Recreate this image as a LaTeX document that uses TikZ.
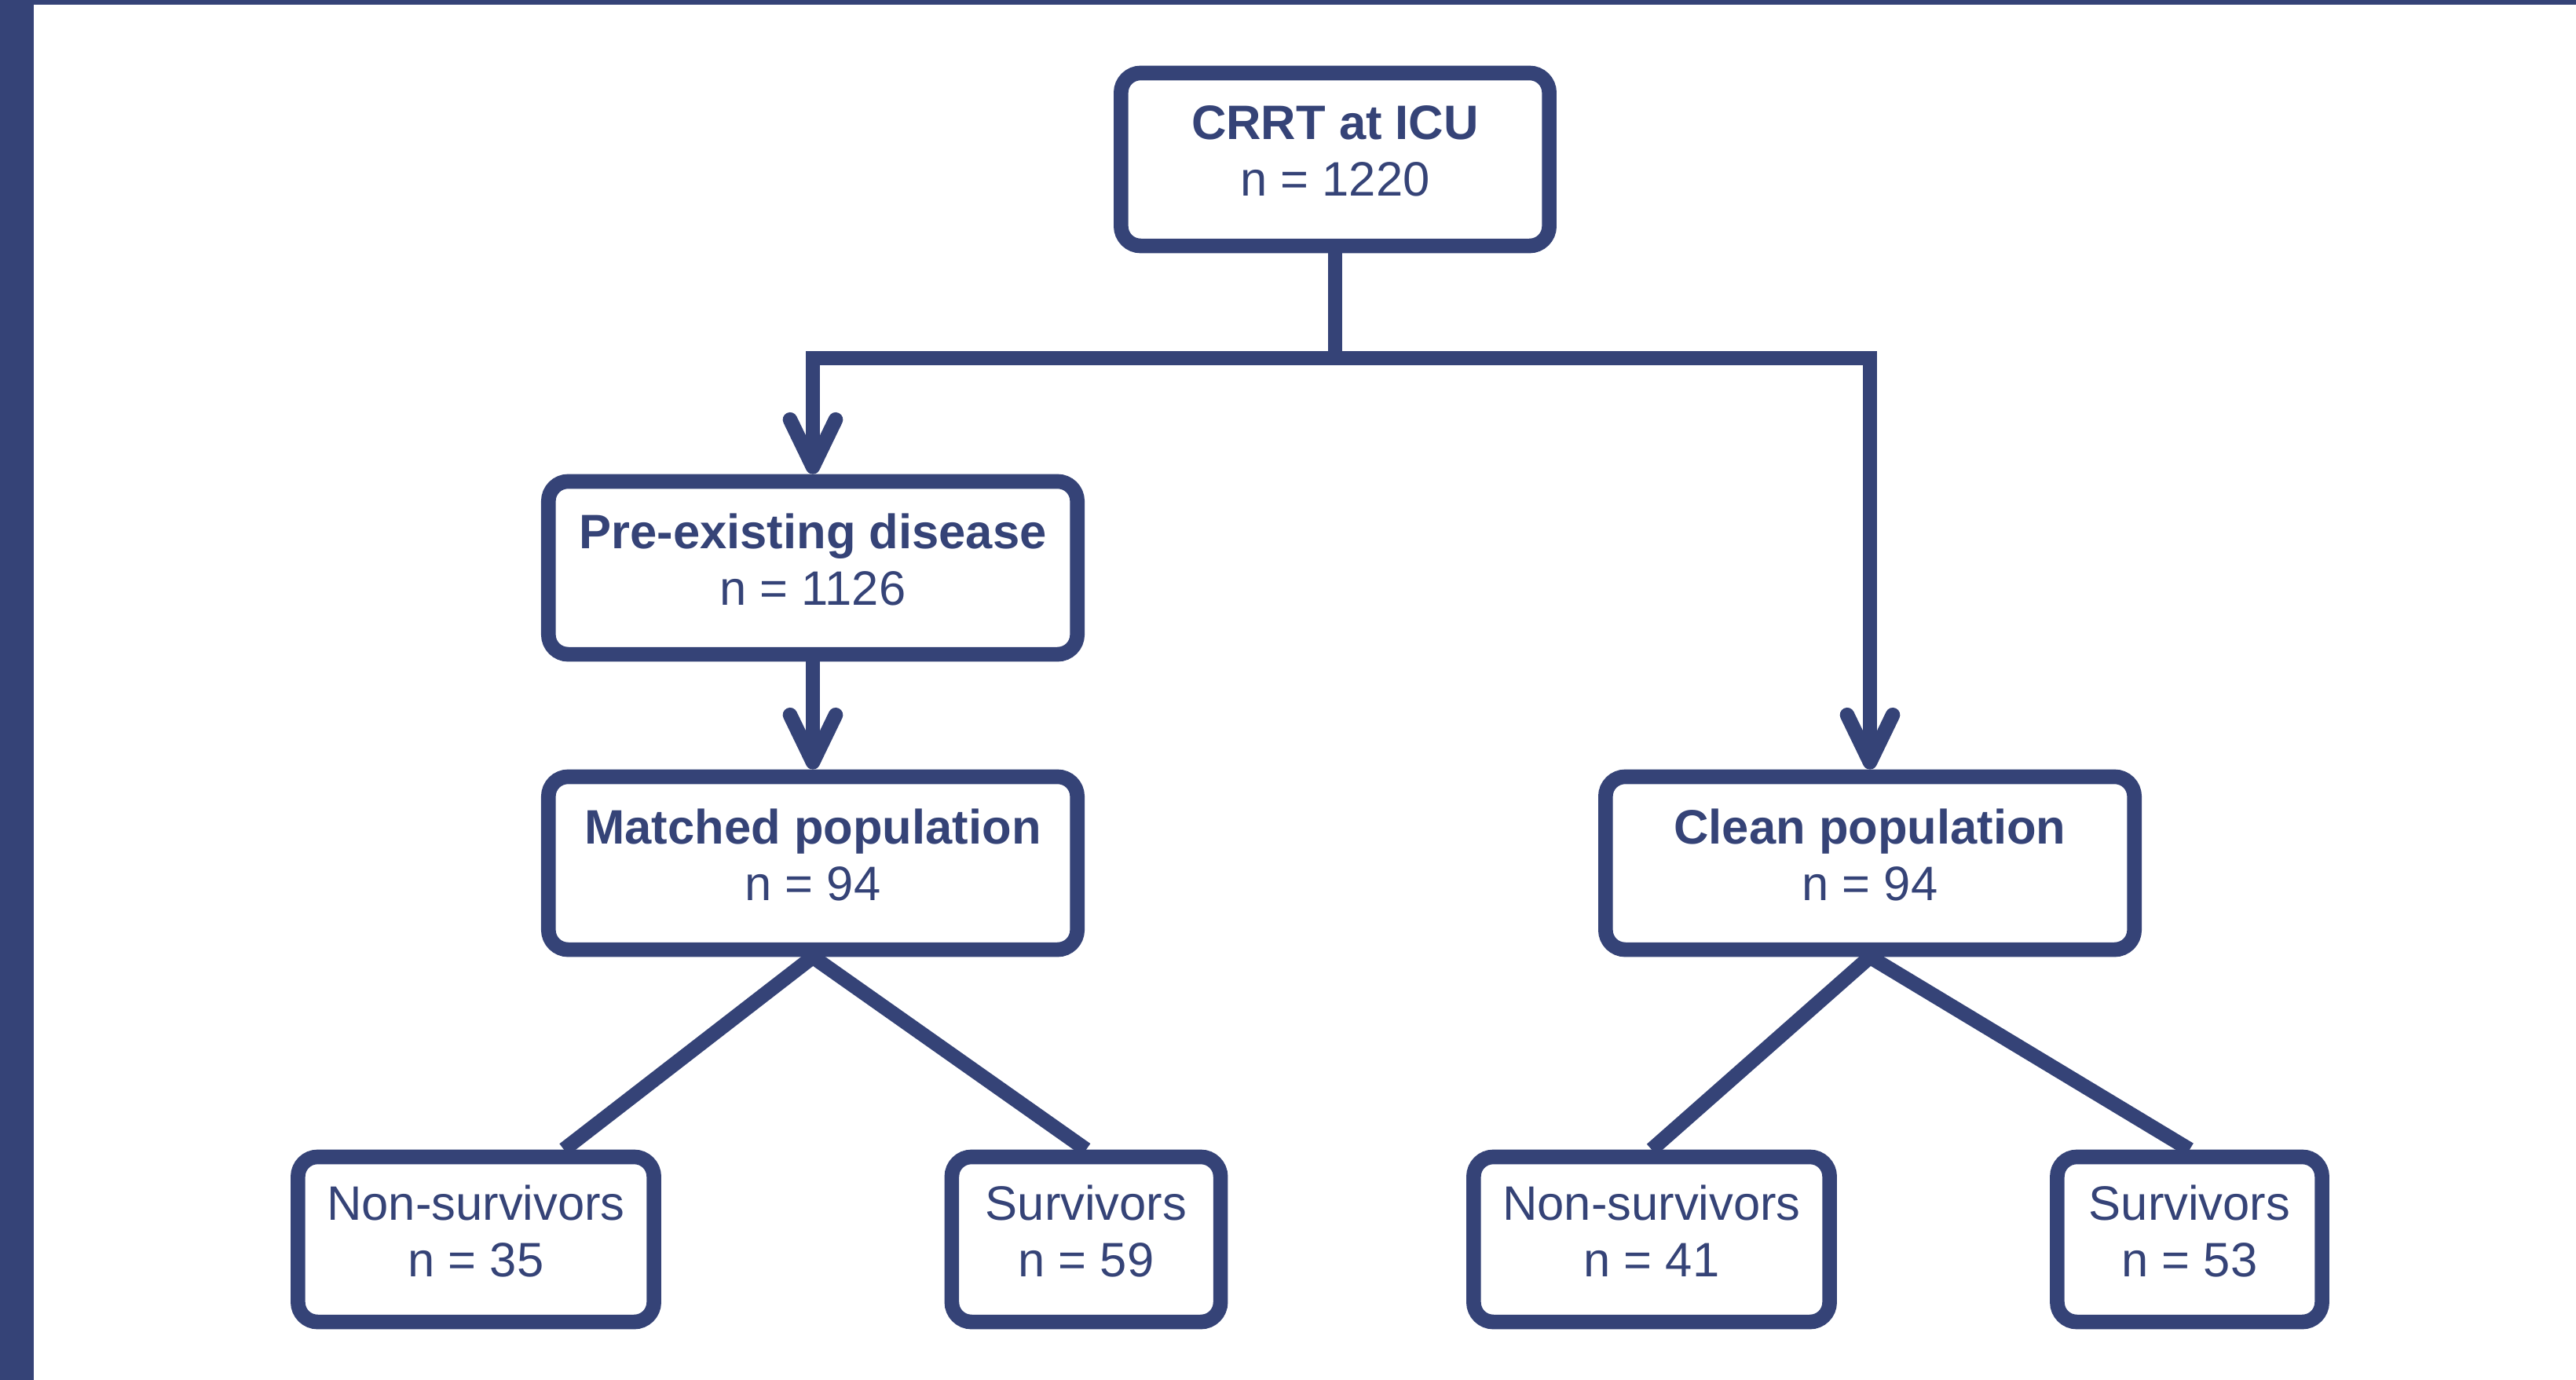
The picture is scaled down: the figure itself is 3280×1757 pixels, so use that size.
\documentclass[tikz,border=0pt]{standalone}
\usepackage{fontspec}
\setmainfont{Liberation Sans}
\usetikzlibrary{arrows.meta}
\definecolor{navy}{RGB}{53,67,119}
\begin{document}
\begin{tikzpicture}[x=0.01cm,y=-0.01cm,
  box/.style={draw=navy, line width=5.3pt, rounded corners=0.25cm, align=center,
    text=navy, font=\fontsize{17.5}{20.5}\selectfont, inner sep=0pt, minimum height=2.2cm},
  lowbox/.style={box, minimum height=2.1cm},
  conn/.style={draw=navy, line width=5.3pt},
  arr/.style={conn, -{Straight Barb[length=0.6cm,width=0.58cm,round]}}]
\useasboundingbox (0,0) rectangle (3280,1757);
\fill[navy] (0,0) rectangle (43,1757);
\fill[navy] (0,0) rectangle (3280,6);

\node[box, minimum width=5.45cm] (crrt) at (1700,203) {\textbf{CRRT at ICU}\\n = 1220\rule[-6pt]{0pt}{0pt}};
\node[box, minimum width=6.73cm] (pre) at (1035,723) {\textbf{Pre-existing disease}\\n = 1126\rule[-6pt]{0pt}{0pt}};
\node[box, minimum width=6.73cm] (matched) at (1035,1099) {\textbf{Matched population}\\n = 94\rule[-6pt]{0pt}{0pt}};
\node[box, minimum width=6.73cm] (clean) at (2381,1099) {\textbf{Clean population}\\n = 94\rule[-6pt]{0pt}{0pt}};

\node[lowbox, minimum width=4.53cm] (nsl) at (606,1578) {Non-survivors\\n = 35\rule[-6pt]{0pt}{0pt}};
\node[lowbox, minimum width=3.42cm] (sl) at (1383,1578) {Survivors\\n = 59\rule[-6pt]{0pt}{0pt}};
\node[lowbox, minimum width=4.53cm] (nsr) at (2103,1578) {Non-survivors\\n = 41\rule[-6pt]{0pt}{0pt}};
\node[lowbox, minimum width=3.37cm] (sr) at (2788,1578) {Survivors\\n = 53\rule[-6pt]{0pt}{0pt}};

\coordinate (hj) at (1700,456);
\draw[conn] (crrt.south) -- (hj);
\draw[arr] (hj) -| (pre.north);
\draw[arr] (hj) -| (clean.north);
\draw[arr] (pre.south) -- (matched.north);

\draw[conn] (matched.south) -- ([xshift=1.12cm]nsl.north);
\draw[conn] (matched.south) -- (sl.north);
\draw[conn] (clean.south) -- (nsr.north);
\draw[conn] (clean.south) -- (sr.north);
\end{tikzpicture}
\end{document}
